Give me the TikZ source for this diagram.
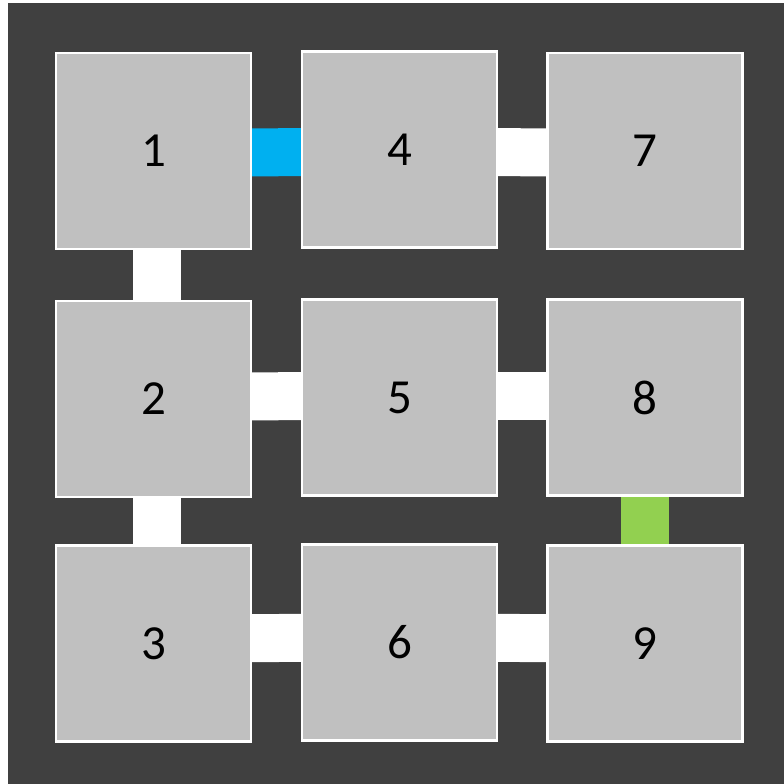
\documentclass[tikz,border=0pt]{standalone}
\usepackage{fontspec}
\setmainfont{Carlito}
\usetikzlibrary{backgrounds}

\definecolor{panel}{HTML}{404040}
\definecolor{cell}{HTML}{C0C0C0}
\definecolor{linkblue}{HTML}{00B0F0}
\definecolor{linkgreen}{HTML}{92D050}

\begin{document}
\begin{tikzpicture}[
    x=0.5pt, y=-0.5pt,
    room/.style={draw=white, line width=1.3pt, fill=cell, minimum width=97.5pt, minimum height=98pt, outer sep=0pt, inner sep=0pt, font=\fontsize{24.5}{28}\selectfont},
    door/.style={draw=white, line width=24pt, line cap=butt},
    bluedoor/.style={door, draw=linkblue},
    greendoor/.style={door, draw=linkgreen},
]

\useasboundingbox (0,0) rectangle (784,784);

% Rooms
\node[room] (r1) at (153.5,151) {1};
\node[room] (r2) at (153.5,399) {2};
\node[room] (r3) at (153.5,643.5) {3};
\node[room] (r4) at (399.5,149.5) {4};
\node[room] (r5) at (399.5,397.5) {5};
\node[room] (r6) at (399.5,642.5) {6};
\node[room] (r7) at (645,151) {7};
\node[room] (r8) at (645,397.5) {8};
\node[room] (r9) at (645,643.5) {9};

\begin{scope}[on background layer]
% Dark panel
\fill[panel] (8,3) rectangle (784,784);

% Doors between rooms
\draw[bluedoor] ([yshift=-1pt]r1.center) -- ([yshift=-1pt]r4.center);
\draw[door] ([yshift=-1pt]r4.center) -- ([yshift=-1pt]r7.center);
\draw[door] ([xshift=1.5pt]r1.center) -- ([xshift=1.5pt]r2.center);
\draw[door] ([xshift=1.5pt]r2.center) -- ([xshift=1.5pt]r3.center);
\draw[door] ([yshift=1pt]r2.center) -- ([yshift=1pt]r5.center);
\draw[door] ([yshift=1pt]r5.center) -- ([yshift=1pt]r8.center);
\draw[greendoor] (r8.center) -- (r9.center);
\draw[door] ([yshift=2.5pt]r3.center) -- ([yshift=2.5pt]r6.center);
\draw[door] ([yshift=2.5pt]r6.center) -- ([yshift=2.5pt]r9.center);
\end{scope}

\end{tikzpicture}
\end{document}
